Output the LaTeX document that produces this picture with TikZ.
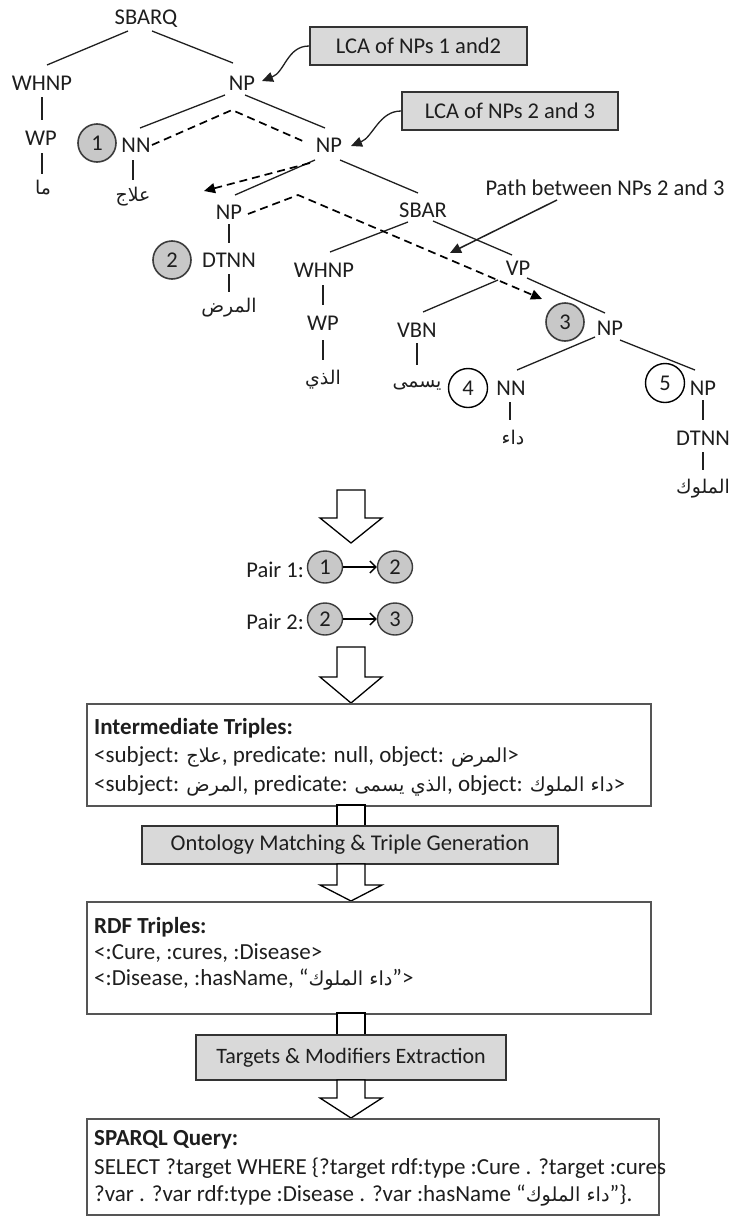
\documentclass[tikz,border=0pt]{standalone}
\usepackage{fontspec}
\setmainfont{Carlito}
\newfontfamily\arabicfont[Script=Arabic,Scale=0.84]{DejaVu Sans}
\TeXXeTstate=1
\usetikzlibrary{arrows.meta,calc,shapes.geometric}
\newcommand{\AR}[1]{{\arabicfont\beginR #1\endR}}
\definecolor{txtc}{HTML}{1E1E1E}
\definecolor{circg}{HTML}{C8C8C8}
\definecolor{circb}{HTML}{3C3C3C}
\definecolor{boxg}{HTML}{D9D9D9}
\definecolor{boxb}{HTML}{333333}
\definecolor{wboxb}{HTML}{555555}
\definecolor{linec}{HTML}{202020}
\begin{document}
\begin{tikzpicture}[x=1pt,y=-1pt,
  every node/.style={font=\fontsize{22.5}{27}\selectfont, text=txtc},
  lbl/.style={inner sep=0pt},
  btxt/.style={inner sep=0pt, anchor=west, font=\fontsize{23}{27}\selectfont},
  tedge/.style={draw=linec, line width=1.3pt},
  dpath/.style={draw=black, line width=1.7pt, dash pattern=on 8pt off 5pt},
  dtip/.style={-{Triangle[length=11pt,width=10pt]}},
  gcirc/.style={circle, draw=circb, fill=circg, line width=1.6pt, minimum size=38pt, inner sep=0pt},
  wcirc/.style={circle, draw=black, fill=white, line width=1.4pt, minimum size=39pt, inner sep=0pt},
  gbox/.style={rectangle, draw=boxb, fill=boxg, line width=1.8pt, inner sep=0pt},
  wbox/.style={rectangle, draw=wboxb, fill=white, line width=1.5pt, inner sep=0pt},
  harrow/.style={draw=black, fill=white, line width=1.3pt, line join=miter},
  pcirc/.style={ellipse, draw=circb, fill=circg, line width=1.4pt, minimum width=35pt, minimum height=32pt, inner sep=0pt},
  parrow/.style={draw=black, line width=1.3pt, -{Straight Barb[length=6pt,width=12pt]}},
]
\fill[white] (0,0) rectangle (730,1218);
\useasboundingbox (0,0) rectangle (730,1218);

% ---------- tree nodes ----------
\node[lbl] (sbarq) at (146,19) {SBARQ};
\node[lbl] (whnp1) at (42,83) {WHNP};
\node[lbl] (np1) at (242,83) {NP};
\node[lbl] (wp1) at (41,138) {WP};
\node[gcirc] (c1) at (97,143) {1};
\node[lbl] (nn1) at (136,145) {NN};
\node[lbl] (np2) at (329,145) {NP};
\node[lbl] (ma) at (43,188) {\AR{ما}};
\node[lbl] (alaj) at (133,197) {\AR{علاج}};
\node[lbl] (np3) at (229,212) {NP};
\node[lbl] (sbar) at (423,210) {SBAR};
\node[gcirc] (c2) at (172,260) {2};
\node[lbl] (dtnn1) at (229,260) {DTNN};
\node[lbl] (whnp2) at (324,270) {WHNP};
\node[lbl] (vp) at (518,268) {VP};
\node[lbl] (marad) at (229,308) {\AR{المرض}};
\node[lbl] (wp2) at (323,323) {WP};
\node[lbl] (vbn) at (417,330) {VBN};
\node[gcirc] (c3) at (565,322) {3};
\node[lbl] (np4) at (610,328) {NP};
\node[lbl] (alladhi) at (323,380) {\AR{الذي}};
\node[lbl] (yusamma) at (417,385) {\AR{يسمى}};
\node[wcirc] (c4) at (468,388) {4};
\node[lbl] (nn2) at (511,388) {NN};
\node[wcirc] (c5) at (665,383) {5};
\node[lbl] (np5) at (703,388) {NP};
\node[lbl] (daa) at (513,437) {\AR{داء}};
\node[lbl] (dtnn2) at (703,438) {DTNN};
\node[lbl] (muluk) at (703,489) {\AR{الملوك}};

% ---------- tree edges ----------
\draw[tedge] ($(sbarq)+(-18,12)$) -- ($(whnp1)+(5,-18)$);
\draw[tedge] ($(sbarq)+(6,12)$) -- ($(np1)+(-9,-20)$);
\draw[tedge] ($(whnp1)+(0,14)$) -- ($(wp1)+(1,-18)$);
\draw[tedge] ($(wp1)+(1,15)$) -- ($(ma)+(-1,-14)$);
\draw[tedge] ($(np1)+(-17,12)$) -- ($(nn1)+(4,-17)$);
\draw[tedge] ($(np1)+(3,12)$) -- ($(np2)+(-4,-17)$);
\draw[tedge] ($(nn1)+(-3,15)$) -- ($(alaj)+(0,-17)$);
\draw[tedge] ($(np2)+(-14,15)$) -- ($(np3)+(6,-17)$);
\draw[tedge] ($(np2)+(11,15)$) -- ($(sbar)+(-5,-17)$);
\draw[tedge] ($(np3)+(0,12)$) -- ($(dtnn1)+(0,-17)$);
\draw[tedge] ($(dtnn1)+(0,14)$) -- ($(marad)+(0,-16)$);
\draw[tedge] ($(sbar)+(-15,12)$) -- ($(whnp2)+(6,-18)$);
\draw[tedge] ($(sbar)+(10,11)$) -- ($(vp)+(-6,-13)$);
\draw[tedge] ($(whnp2)+(-1,15)$) -- ($(wp2)+(0,-18)$);
\draw[tedge] ($(wp2)+(0,17)$) -- ($(alladhi)+(0,-20)$);
\draw[tedge] ($(vp)+(-20,12)$) -- ($(vbn)+(6,-18)$);
\draw[tedge] ($(vp)+(9,10)$) -- ($(np4)+(-5,-15)$);
\draw[tedge] ($(vbn)+(0,13)$) -- ($(yusamma)+(0,-20)$);
\draw[tedge] ($(np4)+(-15,9)$) -- ($(nn2)+(6,-18)$);
\draw[tedge] ($(np4)+(10,12)$) -- ($(np5)+(-8,-18)$);
\draw[tedge] ($(nn2)+(-1,14)$) -- ($(daa)+(-3,-17)$);
\draw[tedge] ($(np5)+(0,12)$) -- ($(dtnn2)+(0,-18)$);
\draw[tedge] ($(dtnn2)+(0,14)$) -- ($(muluk)+(0,-19)$);

% ---------- dashed paths ----------
\draw[dpath] ($(nn1)+(16,0)$) -- ($(np1)+(-10,27)$) -- ($(np2)+(-24,-3)$);
\draw[dpath, dtip] ($(np2)+(-19,18)$) -- ($(np3)+(-25,-21)$);
\draw[dpath, dtip] ($(np3)+(19,2)$) -- ($(np2)+(-31,50)$) -- ($(c3)+(-23,-23)$);

% ---------- callouts ----------
\node[gbox, minimum width=217pt, minimum height=38pt] (lca1) at (418.5,46) {LCA of NPs 1 and2};
\node[gbox, minimum width=216pt, minimum height=38pt] (lca2) at (510,111) {LCA of NPs 2 and 3};
\node[lbl] (pathlbl) at (605,188) {Path between NPs 2 and 3};
\draw[linec, line width=1.3pt, dtip] (lca1.west) .. controls ($(lca1.west)+(-22,0)$) and ($(np1)+(43,-11)$) .. ($(np1)+(20,-2)$);
\draw[linec, line width=1.3pt, dtip] (lca2.west) .. controls ($(lca2.west)+(-22,0)$) and ($(np2)+(44,-8)$) .. ($(np2)+(22,1)$);
\draw[linec, line width=1.5pt, dtip] ($(pathlbl)+(-48,12)$) -- ($(sbar)+(27,43)$);

% ---------- block arrow 1 ----------
\coordinate (ba1) at (351,490);
\draw[harrow] (ba1) ++(-14,0) -- ++(28,0) -- ++(0,28) -- ++(17,0) -- ++(-31,25) -- ++(-31,-25) -- ++(17,0) -- cycle;

% ---------- pairs ----------
\node[lbl, anchor=east] (pair1) at (304,570) {Pair 1:};
\node[pcirc] (p11) at (325,567) {1};
\node[pcirc] (p12) at (395,567) {2};
\draw[parrow] (p11) -- (p12);
\node[lbl, anchor=east] (pair2) at (304,622) {Pair 2:};
\node[pcirc] (p21) at (325,619) {2};
\node[pcirc] (p22) at (395,619) {3};
\draw[parrow] (p21) -- (p22);

% ---------- block arrow 2 ----------
\coordinate (ba2) at (351,647);
\draw[harrow] (ba2) ++(-14,0) -- ++(28,0) -- ++(0,30) -- ++(17,0) -- ++(-31,26) -- ++(-31,-26) -- ++(17,0) -- cycle;

% ---------- intermediate triples ----------
\node[wbox, minimum width=564pt, minimum height=102pt, anchor=north west] (inter) at (86,703) {};
\node[btxt] (inter0) at (94,728) {\textbf{Intermediate Triples:}};
\node[btxt] (inter1) at (94,757) {<subject: \AR{علاج}, predicate: null, object: \AR{المرض}>};
\node[btxt] (inter2) at (94,786) {<subject: \AR{المرض}, predicate: \AR{الذي يسمى}, object: \AR{داء الملوك}>};

\coordinate (s1) at (351,805);
\draw[harrow] (s1) ++(-14,0) rectangle ++(28,21);
\node[gbox, minimum width=416pt, minimum height=38pt] (onto) at (350,845) {Ontology Matching \& Triple Generation};

\coordinate (ba3) at (351,864);
\draw[harrow] (ba3) ++(-14,0) -- ++(28,0) -- ++(0,21) -- ++(17,0) -- ++(-31,16) -- ++(-31,-16) -- ++(17,0) -- cycle;

% ---------- RDF triples ----------
\node[wbox, minimum width=564pt, minimum height=112pt, anchor=north west] (rdf) at (86,901) {};
\node[btxt] (rdf0) at (94,927) {\textbf{RDF Triples:}};
\node[btxt] (rdf1) at (94,953) {<:Cure, :cures, :Disease>};
\node[btxt] (rdf2) at (94,980) {<:Disease, :hasName, “\AR{داء الملوك}”>};

\coordinate (s2) at (351,1013);
\draw[harrow] (s2) ++(-14,0) rectangle ++(28,22);
\node[gbox, minimum width=310pt, minimum height=45pt, font=\fontsize{22}{26}\selectfont] (targ) at (351,1057.5) {Targets \& Modifiers Extraction};

\coordinate (ba4) at (351,1080);
\draw[harrow] (ba4) ++(-14,0) -- ++(28,0) -- ++(0,18) -- ++(17,0) -- ++(-31,20) -- ++(-31,-20) -- ++(17,0) -- cycle;

% ---------- SPARQL ----------
\node[wbox, minimum width=572pt, minimum height=96pt, anchor=north west] (sparql) at (86,1118) {};
\node[btxt] (sp0) at (94,1140) {\textbf{SPARQL Query:}};
\node[btxt] (sp1) at (94,1168) {SELECT ?target WHERE \{?target rdf:type :Cure . ?target :cures};
\node[btxt] (sp2) at (94,1196) {?var . ?var rdf:type :Disease . ?var :hasName “\AR{داء الملوك}”\}.};
\end{tikzpicture}
\end{document}
